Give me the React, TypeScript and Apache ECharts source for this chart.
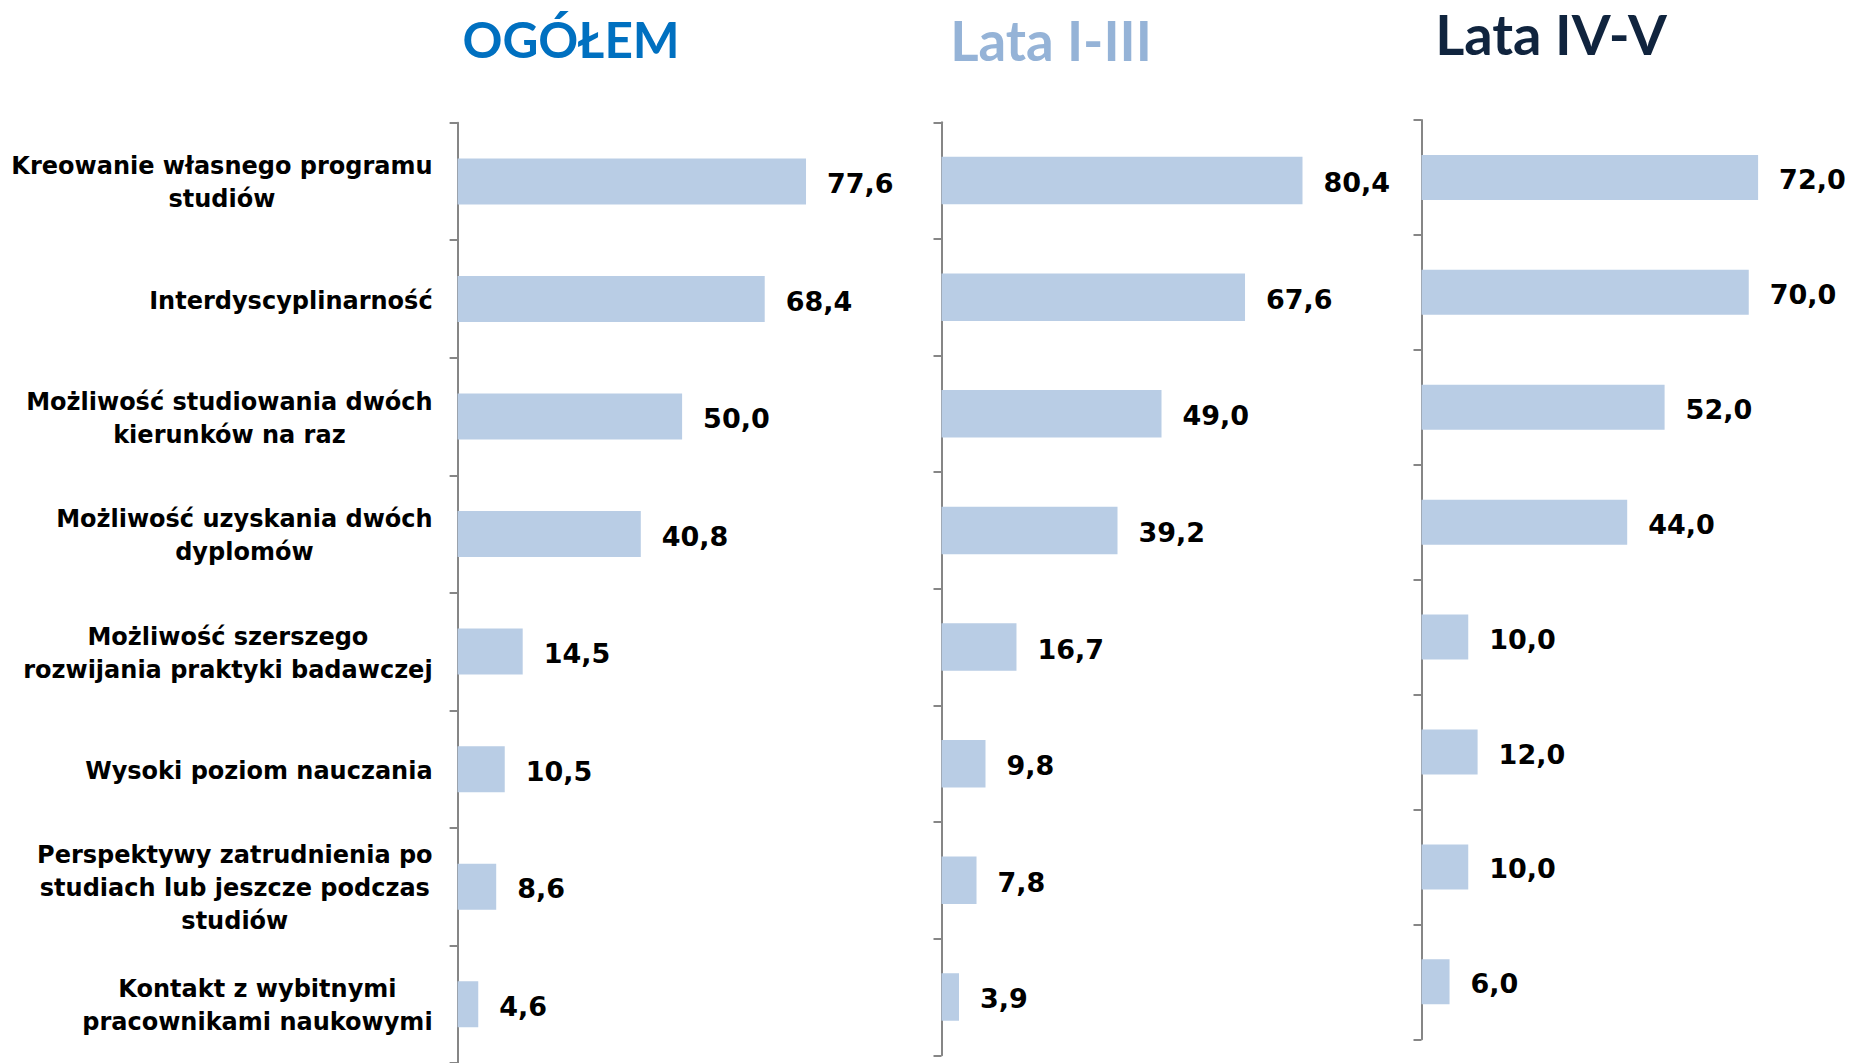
import React, { useEffect, useRef } from "react";
import * as echarts from "echarts";

const categories: string[] = [
  "Kreowanie własnego programu\nstudiów",
  "Interdyscyplinarność",
  "Możliwość studiowania dwóch\nkierunków na raz",
  "Możliwość uzyskania dwóch\ndyplomów",
  "Możliwość szerszego\nrozwijania praktyki badawczej",
  "Wysoki poziom nauczania",
  "Perspektywy zatrudnienia po\nstudiach lub jeszcze podczas\nstudiów",
  "Kontakt z wybitnymi\npracownikami naukowymi",
];
const ogolem: number[] = [77.6, 68.4, 50.0, 40.8, 14.5, 10.5, 8.6, 4.6];
const lata13: number[] = [80.4, 67.6, 49.0, 39.2, 16.7, 9.8, 7.8, 3.9];
const lata45: number[] = [72.0, 70.0, 52.0, 44.0, 10.0, 12.0, 10.0, 6.0];
const panelTitles: string[] = ["OGÓŁEM", "Lata I-III", "Lata IV-V"];

const panelData = [ogolem, lata13, lata45];

export default function App() {
  const ref = useRef<HTMLDivElement>(null);

  useEffect(() => {
    if (!ref.current) return;
    const chart = echarts.init(ref.current, undefined, { renderer: "svg" });

    const grids = [
      { left: 457.6, top: 122.7, width: 449, height: 944 },
      { left: 941.5, top: 122.3, width: 449, height: 933 },
      { left: 1421.5, top: 120, width: 374, height: 919.3 },
    ];
    const xMax = [100, 100, 80];
    const barWidths = [46, 47.5, 45];
    const titleX = [571, 1051, 1551];
    const titleY = [39, 40, 33];
    const titleColors = ["#0070C0", "#95B3D7", "#10243E"];
    const titleSizes = [49.5, 54.5, 56];

    const axisColor = "#868686";
    const labelFont = "DejaVu Sans";

    const option: any = {
      animation: false,
      backgroundColor: "#ffffff",
      grid: grids,
      xAxis: grids.map((_, i) => ({
        type: "value",
        gridIndex: i,
        min: 0,
        max: xMax[i],
        show: false,
      })),
      yAxis: grids.map((_, i) => ({
        type: "category",
        gridIndex: i,
        data: categories,
        inverse: true,
        axisLine: { show: true, lineStyle: { color: axisColor, width: 2 } },
        axisTick: { show: true, length: 8, lineStyle: { color: axisColor, width: 2 } },
        splitLine: { show: false },
        axisLabel: {
          show: i === 0,
          margin: 25,
          interval: 0,
          align: "right",
          formatter: (v: string) =>
            v
              .split("\n")
              .map((l) => `{c|${l}}`)
              .join("\n"),
          rich: {
            c: {
              align: "center",
              fontFamily: labelFont,
              fontWeight: "bold",
              fontSize: 24,
              lineHeight: 33,
              padding: [3, 0, 0, 0],
              color: "#000000",
            },
          },
        },
      })),
      series: panelData.map((d, i) => ({
        type: "bar",
        xAxisIndex: i,
        yAxisIndex: i,
        data: d,
        barWidth: barWidths[i],
        itemStyle: { color: "#B9CDE5" },
        label: {
          show: true,
          position: "right",
          distance: 21,
          offset: [0, 2],
          formatter: (p: any) => Number(p.value).toFixed(1).replace(".", ","),
          fontFamily: labelFont,
          fontWeight: "bold",
          fontSize: 27,
          color: "#000000",
        },
      })),
      graphic: panelTitles.map((t, i) => ({
        type: "text",
        x: titleX[i],
        y: titleY[i],
        style: {
          text: t,
          fill: titleColors[i],
          fontFamily: "Lato",
          fontWeight: "bold",
          fontSize: titleSizes[i],
          align: "center",
          verticalAlign: "middle",
        },
      })),
    };

    chart.setOption(option);
    return () => chart.dispose();
  }, []);

  return (
    <div
      ref={ref}
      style={{ position: "absolute", left: 0, top: 0, width: 1854, height: 1063 }}
    />
  );
}
